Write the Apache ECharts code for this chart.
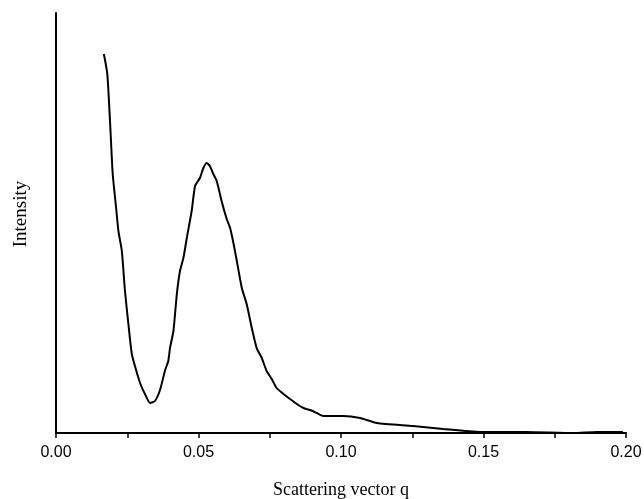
<!DOCTYPE html>
<html>
<head>
<meta charset="utf-8">
<script src="https://cdn.jsdelivr.net/npm/echarts@6/dist/echarts.min.js"></script>
<style>
  html, body { margin: 0; padding: 0; background: #fff; }
  #chart { width: 644px; height: 499px; }
</style>
</head>
<body>
<div id="chart"></div>
<script>
// scattering vector q
const qValues = [
  0.0168, 0.0180, 0.0190, 0.0199, 0.0211, 0.0219, 0.0231, 0.0242, 0.0254, 0.0266,
  0.0277, 0.0295, 0.0312, 0.0330, 0.0347, 0.0365, 0.0383, 0.0394, 0.0400, 0.0412,
  0.0424, 0.0435, 0.0447, 0.0459, 0.0476, 0.0488, 0.0505, 0.0517, 0.0529, 0.0540,
  0.0552, 0.0564, 0.0581, 0.0599, 0.0611, 0.0628, 0.0652, 0.0669, 0.0687, 0.0704,
  0.0722, 0.0739, 0.0757, 0.0774, 0.0798, 0.0821, 0.0845, 0.0868, 0.0891, 0.0915,
  0.0938, 0.1007, 0.1067, 0.1126, 0.1253, 0.1358, 0.1488, 0.1650, 0.1814, 0.1898,
  0.1989
]
// intensity (arbitrary units)
const intensity = [
  379, 359, 309, 259, 225, 202, 182, 142, 109, 79,
  67, 50, 39, 30, 32, 43, 63, 72, 85, 102,
  139, 162, 175, 195, 222, 247, 255, 265, 270, 267,
  259, 252, 232, 214, 205, 182, 145, 129, 105, 85,
  75, 62, 54, 45, 39, 34, 29, 25, 23, 20,
  17, 17, 15, 10, 7, 4, 1, 1, 0, 1,
  1
]
const xTicks = { min: 0, max: 0.2, interval: 0.05 }

const chart = echarts.init(document.getElementById('chart'))
chart.setOption({
  animation: false,
  grid: { left: 56, right: 18, top: 13, bottom: 66, outerBoundsMode: 'none', containLabel: false },
  xAxis: {
    type: 'value',
    min: xTicks.min,
    max: xTicks.max,
    interval: xTicks.interval,
    name: 'Scattering vector q',
    nameLocation: 'middle',
    nameGap: 48,
    nameTextStyle: { fontFamily: 'Liberation Serif', fontSize: 18, color: '#000' },
    axisLine: { lineStyle: { color: '#000', width: 2 } },
    axisTick: { show: true, length: 5, lineStyle: { color: '#000', width: 1.5 } },
    minorTick: { show: true, splitNumber: 2, length: 5, lineStyle: { color: '#000', width: 1.5 } },
    axisLabel: {
      margin: 12,
      fontFamily: 'Liberation Sans',
      fontSize: 16,
      color: '#000',
      formatter: v => v.toFixed(2)
    },
    splitLine: { show: false }
  },
  yAxis: {
    type: 'value',
    min: 0,
    max: 420,
    name: 'Intensity',
    nameLocation: 'middle',
    nameGap: 25,
    nameTextStyle: {
      fontFamily: 'Liberation Serif',
      fontSize: 19,
      color: '#000',
      padding: [0, 0, 0, 18]
    },
    axisLine: { show: true, lineStyle: { color: '#000', width: 2 } },
    axisTick: { show: false },
    axisLabel: { show: false },
    splitLine: { show: false }
  },
  series: [{
    type: 'line',
    data: qValues.map((q, i) => [q, intensity[i]]),
    symbol: 'none',
    smooth: 0.2,
    lineStyle: { color: '#000', width: 2 }
  }]
})
</script>
</body>
</html>
